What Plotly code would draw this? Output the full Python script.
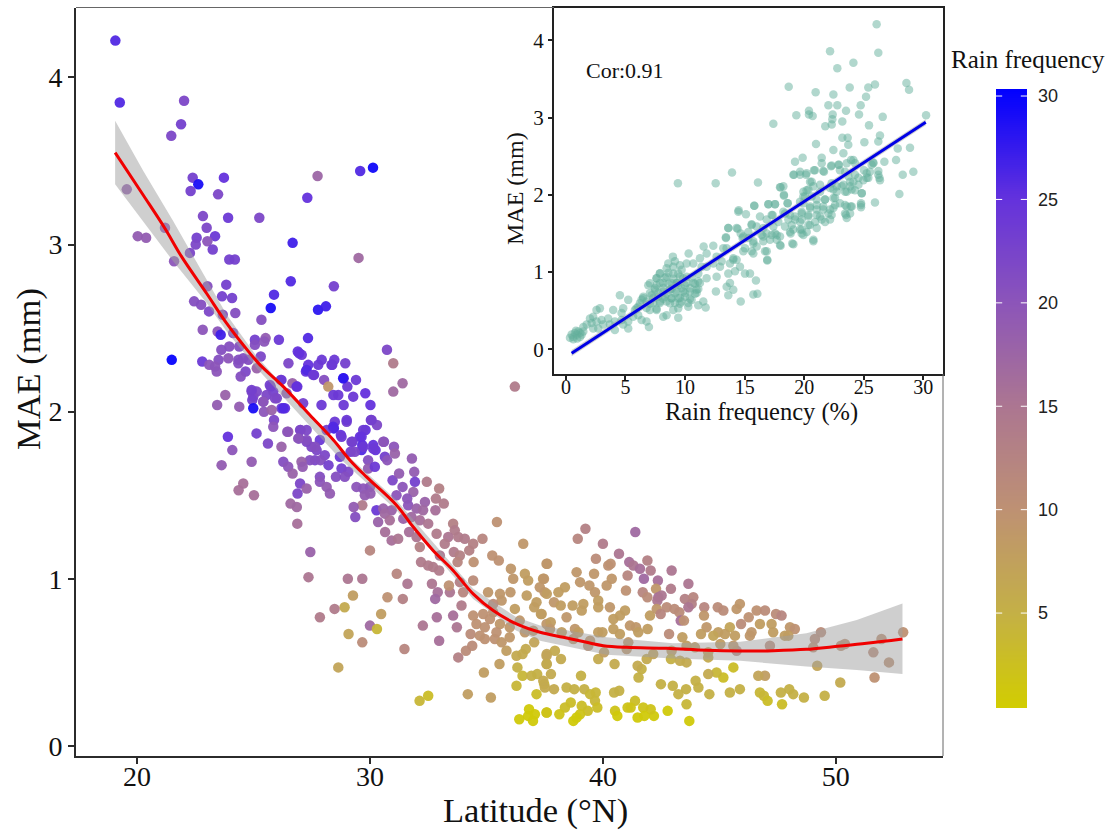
import plotly.graph_objects as go

# (latitude, MAE, rain frequency)
south_pts = [
(19.07,4.22,26),(19.26,3.85,26),(22.02,3.86,22),(21.89,3.72,23),(21.47,3.65,22),(22.39,3.40,23),(22.63,3.36,29),
(23.73,3.40,25),(22.30,3.32,23),(23.48,3.30,22),(27.75,3.41,17.5),(29.58,3.44,26),(30.13,3.46,29.5),(27.31,3.28,25),
(19.56,3.33,19),(22.83,3.17,22),(23.91,3.16,24),(25.25,3.16,22),(22.99,3.10,22),(21.2,3.10,20),(20.03,3.05,19),
(20.39,3.04,19),(22.56,3.04,23),(23.35,3.05,24),(22.52,3.00,22),(23.02,3.02,20),(23.25,2.97,23),(26.68,3.01,27),
(22.27,2.95,22),(21.59,2.90,20),(23.96,2.91,23),(24.2,2.91,23),(29.51,2.92,17),(23.02,2.75,21),(23.83,2.76,23),
(26.6,2.78,26),(28.45,2.75,23),(25.88,2.70,26),(23.65,2.69,23),(24.08,2.68,23),(22.45,2.66,21),(22.75,2.64,21),
(23.09,2.60,22),(24.22,2.59,21),(23.68,2.58,21),(25.74,2.62,29),(27.77,2.61,28),(28.11,2.63,27),(25.34,2.55,21),
(22.82,2.49,20),(23.46,2.48,20),(23.59,2.46,27),(24.13,2.47,22),(25.06,2.43,23),(25.52,2.44,19),(26.09,2.43,24),
(27.34,2.44,26),(25.06,2.40,21),(25.46,2.42,20),(23.96,2.39,21),(23.62,2.37,21),(24.39,2.39,21),(26.9,2.36,25),
(27.07,2.34,24),(30.73,2.37,22),(21.49,2.31,30),(22.8,2.30,24),(23.5,2.31,21),(23.92,2.32,20),(24.35,2.31,21),
(24.56,2.32,21),(24.78,2.31,21),(25.31,2.33,22),(23.1,2.28,20),(23.35,2.27,20),(24.35,2.29,21),(26.5,2.29,22),
(27.93,2.31,24),(28.47,2.31,24),(28.94,2.29,23),(31.0,2.29,14),(27.35,2.28,25),(27.78,2.28,24),(28.38,2.28,24),
(25.14,2.26,18),(23.42,2.24,20),(24.66,2.24,22),(27.25,2.24,25),(27.6,2.22,24),(24.45,2.21,21),(26.17,2.19,23),
(26.67,2.17,18),(28.03,2.19,21),(28.87,2.20,25),(29.4,2.19,24),(31.4,2.17,17),(25.74,2.15,23),(26.88,2.15,24),
(29.03,2.15,24),(28.21,2.15,9),(23.79,2.10,18),(24.92,2.12,22),(25.14,2.12,22),(25.85,2.12,23),(31.0,2.12,17),
(29.8,2.11,25),(28.43,2.10,24),(28.64,2.10,24),(29.28,2.09,24),(24.99,2.09,22),(25.56,2.10,22),(26.42,2.11,20),
(36.22,2.15,14),
(26.96,2.35,25),(27.28,2.25,26),(27.56,2.22,24),(28.35,2.28,24),(28.85,2.20,28),(25.7,2.16,23),(26.2,2.19,24),
(26.85,2.15,25),(26.0,2.08,22),(25.42,2.06,21),(24.92,2.13,23),(26.2,2.02,24),(26.35,2.02,25),
]

central_pts = [
(23.44,2.04,19),(24.39,2.03,19),(24.95,2.07,23),(24.99,2.02,29),(25.42,2.06,20),(25.45,2.00,20),(25.78,2.01,18),
(25.88,1.95,22),(25.85,1.91,20),(26.28,2.02,26),(25.92,2.08,22),(27.13,2.05,23),(27.92,2.04,24),(28.87,2.04,24),
(30.02,2.04,25),(29.0,1.94,23),(28.49,1.94,24),(28.45,1.90,27),(28.75,1.86,25),(28.14,1.89,23),(30.04,1.95,24),
(30.3,1.92,22),(29.81,1.89,25),(29.57,1.85,25),(29.25,1.82,24),(29.67,1.80,26),(30.14,1.80,25),(30.24,1.77,25),
(30.6,1.82,21),(31.03,1.79,20),(31.07,1.75,18),(30.64,1.73,23),(30.74,1.71,20),(31.8,1.72,19),(23.9,1.85,25),
(25.13,1.87,23),(24.09,1.77,20),(23.63,1.68,19),(24.92,1.70,19),(25.62,1.81,22),(26.2,1.79,18),(26.49,1.88,18),
(26.95,1.84,23),(27.28,1.89,22),(27.02,1.89,21),(27.28,1.82,22),(27.49,1.79,22),(27.85,1.83,24),(27.71,1.77,22),
(28.06,1.74,22),(27.64,1.71,22),(27.42,1.71,21),(27.06,1.70,18),(27.88,1.71,21),(26.28,1.70,21),(26.49,1.67,20),
(26.68,1.63,18),(27.11,1.67,19),(28.22,1.68,23),(28.71,1.73,24),(29.17,1.76,23),(29.64,1.77,26),(29.92,1.71,21),
(29.92,1.66,19),(30.21,1.67,24),(28.78,1.66,23),(29.07,1.64,22),(28.54,1.61,21),(28.92,1.61,21),(27.85,1.61,21),
(27.0,1.57,22),(27.85,1.58,20),(27.28,1.54,18),(26.89,1.51,22),(28.14,1.55,19),(28.28,1.51,19),(24.56,1.57,16),
(24.36,1.53,16),(25.02,1.50,16),(26.59,1.45,17),(26.86,1.43,17),(26.88,1.33,16),(27.44,1.16,18),(27.36,1.01,15),
(29.05,1.0,15),(29.67,1.0,15),(29.27,0.90,8),(28.91,0.83,6),(28.48,0.82,14),(27.85,0.77,14),(30.48,0.79,8),
(30.75,0.89,10),(31.41,0.88,13),(30.0,0.72,17),(30.3,0.70,4),(29.08,0.67,7),(29.67,0.62,11),(31.48,0.58,12),
(28.64,0.47,7),(30.0,1.17,12),(31.15,1.03,12),(31.61,0.97,15),(29.42,1.55,20),(29.71,1.54,20),(30.0,1.55,20),
(29.78,1.50,19),(30.02,1.51,19),(29.67,1.44,14),(29.3,1.43,19),(29.37,1.37,21),(30.28,1.41,24),(30.57,1.42,18),
(30.93,1.41,18),(30.64,1.39,17),(30.35,1.34,18),(30.85,1.35,16),(30.65,1.28,16),(30.93,1.23,16),(31.21,1.24,15),
(30.97,1.59,22),(31.25,1.63,19),(31.4,1.55,20),(31.14,1.50,20),(31.9,1.64,19),(31.93,1.58,23),(32.44,1.58,14),
(32.97,1.54,13),(31.86,1.52,18),(31.6,1.48,20),(31.64,1.44,20),(32.0,1.42,18),(32.36,1.46,18),(32.83,1.48,14),
(33.17,1.45,14),(32.81,1.41,16),(32.28,1.41,17),(31.43,1.36,18),(31.78,1.37,17),(32.14,1.35,16),(32.5,1.33,15),
(31.68,1.28,16),(32.0,1.25,15),(32.14,1.19,13),(32.86,1.27,14),(33.57,1.33,13),(33.64,1.29,14),(33.36,1.25,15),
(33.79,1.25,14),(34.07,1.24,14),(33.21,1.21,14),(34.43,1.21,13),(34.83,1.24,12),(35.45,1.34,10),(36.58,1.21,9),
(34.26,1.17,13),(33.6,1.16,14),(33.86,1.14,13),(33.0,1.14,15),(32.19,1.10,14),(32.5,1.08,14),(32.71,1.07,14),
(32.97,1.05,14),(33.76,1.10,12),(34.45,1.10,10),(35.25,1.14,10),(35.53,1.11,10),(36.05,1.06,9),(36.15,1.0,9),
(36.65,1.03,8),(36.79,0.99,8),(37.58,1.09,9),(37.43,1.0,8),(37.29,0.95,9),(37.5,0.92,9),(32.66,0.97,15),
(32.91,0.92,16),(32.8,0.88,17),(33.43,0.92,15),(33.39,0.96,10),(33.86,0.98,13),(34.0,0.92,12),(34.43,0.99,11),
(35.07,0.92,9),(35.58,0.91,9),(36.03,0.92,9),(35.65,0.87,9),(35.29,0.85,11),(36.73,0.90,8),(37.15,0.86,8),
(37.05,0.83,8),(36.22,0.82,8),(37.34,0.79,8),(33.93,0.84,14),(35.29,0.80,10),(33.57,0.78,16),(32.87,0.77,16),
(32.27,0.72,15),(33.73,0.71,15),(32.97,0.63,16),(33.79,0.53,13),(34.12,0.57,11),(34.39,0.60,11),(34.89,0.44,8),
(35.56,0.49,8),(35.86,0.57,8),(36.29,0.54,6),(36.55,0.55,6),(36.69,0.58,6),(37.05,0.62,7),(36.33,0.47,5),
(36.55,0.42,4),(36.93,0.42,5),(37.18,0.43,5),(36.29,0.36,4),(37.15,0.31,3),(37.48,0.37,4),(37.58,0.54,7),
(37.58,0.49,7),(34.2,0.31,8),(35.19,0.29,8),(32.5,0.30,3),(32.13,0.27,4),(36.41,0.16,1),(36.83,0.22,1),
(37.08,0.19,1),(36.79,0.18,1),(37.0,0.15,1),(37.58,0.20,1.5),(34.43,0.78,10),(34.86,0.79,10),(35.15,0.76,10),
(34.57,0.73,10),(34.93,0.71,10),(34.32,0.67,11),(34.72,0.66,10),(34.93,0.64,10),(35.36,0.64,10),(35.65,0.62,9),
(36.0,0.65,9),(35.58,0.73,9),(36.0,0.71,9),(36.43,0.75,9),(36.65,0.68,9),(37.01,0.69,9),(35.43,0.68,10),(37.58,0.73,9),
(26.45,1.88,20),(27.0,1.89,22),(28.42,1.91,26),(29.0,1.95,24),(28.78,1.85,24),(27.28,1.83,21),(26.92,1.84,20),
(27.64,1.79,21),(29.21,1.82,23),(29.71,1.89,24),(29.64,1.85,25),(30.07,1.95,23),(29.35,1.76,22),(30.14,1.78,24),
(30.57,1.82,20),(29.71,1.79,24),
]

north_pts = [
(39.25,1.30,13),(38.92,1.24,12),(40.0,1.21,14),(41.39,1.28,17),(40.69,1.15,15),(39.7,1.12,11),(40.23,1.08,10),
(40.33,1.09,10),(37.61,1.09,9),(38.87,1.04,9),(39.62,1.03,9),(41.06,1.02,12),(41.13,1.10,16),(41.31,1.08,15),
(41.91,1.11,13),(41.59,1.06,16),(42.05,1.05,14),(41.76,1.0,17),(42.36,0.99,16),(42.95,1.05,15),(43.67,0.97,15),
(42.92,0.94,14),(37.47,1.0,9),(40.38,1.0,9),(40.16,0.96,9),(39.02,0.98,9),(39.42,0.96,9),(38.37,0.95,8),(39.66,0.92,9),
(40.99,0.93,10),(41.71,0.92,12),(41.91,0.89,11),(42.28,0.94,9),(42.38,0.89,16),(42.52,0.90,15),(42.34,0.87,15),
(38.09,0.92,8),(37.59,0.91,8),(39.8,0.87,8),(37.9,0.86,9),(38.19,0.84,8),(38.7,0.84,8),(39.16,0.85,8),(39.09,0.81,8),
(39.8,0.83,8),(40.3,0.83,9),(40.95,0.81,8),(40.73,0.78,8),(40.45,0.76,8),(37.37,0.79,8),(38.44,0.77,9),(37.76,0.74,8),
(42.02,0.78,8),(42.31,0.82,9),(42.74,0.83,11),(43.07,0.82,11),(42.48,0.79,12),(43.28,0.80,11),(43.52,0.88,13),
(43.88,0.89,12),(43.81,0.85,13),(43.67,0.83,15),(43.34,0.75,16),(43.48,0.75,10),(44.35,0.83,12),(44.93,0.83,11),
(45.17,0.81,11),(45.88,0.85,9),(45.74,0.82,9),(44.34,0.78,9),(45.93,0.73,11),(46.26,0.77,10),(46.6,0.81,10),
(46.96,0.81,11),(47.43,0.79,11),(47.67,0.78,12),(47.24,0.73,8),(46.74,0.73,8),(47.31,0.68,8),(46.38,0.68,9),
(46.31,0.66,9),(44.45,0.71,9),(45.45,0.71,7),(44.95,0.68,8),(44.74,0.66,7),(45.24,0.67,8),(45.67,0.66,8),(44.21,0.67,8),
(48.03,0.71,9),(48.24,0.70,10),(47.81,0.66,8),(47.96,0.66,8),(49.36,0.68,11),(49.1,0.64,11),(49.03,0.59,10),
(50.39,0.61,10),(50.22,0.60,10),(51.96,0.64,10),(52.89,0.68,10),(51.61,0.56,11),(52.28,0.50,10),(51.66,0.41,10),
(49.2,0.48,7),(50.19,0.38,6),(49.52,0.30,5),(48.63,0.29,5),(48.17,0.31,5),(48.0,0.34,5),(47.64,0.32,5),(47.69,0.25,3),
(47.17,0.60,11),(45.74,0.57,12),(45.6,0.60,9),(45.04,0.61,8),(44.52,0.53,6),(44.52,0.56,7),(43.95,0.59,8),(43.59,0.60,8),
(42.95,0.57,8),(42.92,0.52,5),(43.31,0.51,6),(43.59,0.50,6),(45.6,0.47,3),(45.17,0.41,3),(44.88,0.44,4),(44.52,0.43,6),
(46.96,0.42,8),(46.67,0.42,7),(45.88,0.34,5),(45.45,0.32,5),(44.57,0.31,5),(46.74,0.32,4),(46.91,0.30,4),(47.07,0.27,3),
(44.1,0.35,5),(43.98,0.39,5),(43.57,0.34,5),(43.24,0.31,5),(43.0,0.36,5),(42.49,0.37,5),(43.59,0.25,4),(43.71,0.15,1),
(42.78,0.21,1),(42.19,0.18,1),(42.05,0.22,2),(41.73,0.23,2),(41.78,0.18,1),(41.49,0.17,1),(41.38,0.27,3),(41.19,0.23,2),
(41.06,0.23,2),(40.7,0.33,5),(40.48,0.32,5),(40.52,0.21,2),(40.62,0.18,1),(41.53,0.41,5),(41.66,0.46,5),(41.49,0.48,6),
(41.88,0.52,6),(42.16,0.55,7),(40.5,0.49,6),(39.8,0.52,6),(40.05,0.56,8),(39.37,0.60,10),(39.45,0.63,9),(41.02,0.58,9),
(41.09,0.62,9),(39.8,0.68,8),(39.98,0.68,8),(40.73,0.67,8),(40.45,0.70,8),(41.16,0.72,9),(41.42,0.71,9),(41.52,0.68,8),
(41.92,0.70,8),(42.84,0.67,11),(43.41,0.65,8),(38.8,0.70,9),(38.95,0.68,8),(38.73,0.64,9),(38.23,0.68,8),(37.73,0.70,9),
(37.59,0.55,7),(37.94,0.57,6),(38.2,0.52,6),(37.59,0.49,6),(37.77,0.43,6),(39.06,0.42,5),(38.44,0.35,5),(38.77,0.34,5),
(39.2,0.34,5),(39.69,0.32,4),(39.45,0.31,4),(39.66,0.27,4),(39.76,0.23,3),(39.35,0.21,3),(39.09,0.24,3),(38.62,0.26,3),
(38.37,0.23,3),(38.13,0.19,2),(37.59,0.20,2),(39.02,0.19,2),(38.73,0.15,1),(38.87,0.17,1),(37.9,0.34,6),(37.51,0.35,6),
(37.44,0.39,6),
]

# (rain frequency, MAE)
inset_high_pts = [
(26.08,4.21),(22.17,3.86),(26.22,3.84),(24.13,3.71),(22.78,3.64),(28.58,3.45),(25.94,3.43),(25.38,3.39),(23.82,3.39),
(28.8,3.36),(18.7,3.40),(20.96,3.33),(22.45,3.30),(25.19,3.27),(22.03,3.16),(22.78,3.16),(24.74,3.16),(20.4,3.09),
(23.51,3.09),(19.34,3.03),(20.4,3.04),(20.71,3.02),(22.39,3.04),(24.6,3.04),(26.59,3.01),(30.23,3.03),(22.36,2.98),
(23.2,2.95),(17.41,2.92),(21.77,2.89),(22.31,2.91),(25.44,2.90),(26.36,2.77),(23.2,2.74),(23.65,2.74),(23.7,2.65),
(25.05,2.68),(26.22,2.69),(20.99,2.66),(22.45,2.58),(28.88,2.61),(27.85,2.60),(23.29,2.54),(21.47,2.48),(19.87,2.48),
(19.23,2.43),(24.13,2.45),(25.8,2.42),(26.73,2.43),(27.71,2.45),(21.47,2.41),(22.92,2.39),(22.25,2.37),(29.16,2.30),
(28.27,2.26),(26.22,2.31),(26.22,2.26),(26.36,2.19),(27.99,2.01),(25.94,1.90),(24.77,1.89),(24.77,1.84),(13.94,2.29),
(9.4,2.15),(12.57,2.15),(16.12,2.16),(20.82,2.32),(21.6,2.31),(23.0,2.32),(19.65,2.26),(19.09,2.26),(20.2,2.28),
(20.49,2.17),(20.77,2.11),(18.25,2.11),(17.97,2.10),(18.3,1.99),(17.0,1.88),(17.55,1.88),(18.61,1.89),(15.81,1.86),
(14.5,1.80),(15.11,1.75),(16.29,1.72),(13.63,1.57),(14.41,1.56),(13.43,1.45),(14.67,1.50),(12.37,1.34),(11.56,1.33),
(10.3,1.24),(8.98,1.20),
]
inset_band_pts = [
(25.24,2.28),(24.26,2.26),(23.71,2.24),(24.97,2.19),(24.13,2.17),(24.55,2.13),(23.85,2.11),(23.29,2.13),(22.73,2.11),
(22.17,2.09),(22.73,2.04),(23.57,2.04),(24.26,2.06),(24.83,2.02),(25.52,2.30),(25.24,2.22),(25.66,2.39),(23.57,2.41),
(21.75,1.94),(22.45,1.96),(23.0,1.89),(23.57,1.85),(23.99,1.85),(23.43,1.76),(23.85,1.76),(23.57,1.70),(22.45,1.83),
(22.03,1.76),(21.6,1.85),(21.33,1.72),(21.75,1.65),(22.17,1.68),(21.05,1.81),(20.49,1.85),(19.93,1.89),(19.79,1.76),
(20.35,1.72),(20.91,1.65),(20.35,1.61),(19.65,1.65),(19.23,1.72),(18.81,1.74),(18.39,1.76),(18.95,1.61),(19.65,1.55),
(20.21,1.52),(20.77,1.42),(21.05,1.57),(18.81,1.52),(18.39,1.59),(19.09,1.36),(19.79,1.50),(20.63,1.98),(20.07,1.98),
(20.2,2.06),(19.65,1.91),(21.05,1.94),(21.33,2.04),(17.97,1.46),(17.55,1.50),(17.69,1.42),(18.02,1.34),(17.27,1.48),
(16.85,1.50),(16.43,1.48),(16.57,1.40),(17.13,1.42),(16.85,1.27),(16.9,1.15),(16.01,1.33),(15.73,1.40),(15.31,1.44),
(14.89,1.46),(15.59,1.27),(14.89,1.27),(16.01,1.59),(15.59,1.62),(16.85,1.68),(17.35,1.74),(17.83,1.65),(17.41,1.59),
(16.57,1.57),(15.31,1.52),
(18.02,2.10),(18.3,2.00),(19.14,2.26),(19.65,2.30),(20.15,2.26),(20.9,2.32),(21.66,2.30),(22.3,2.38),(22.87,2.39),
(23.43,2.30),(23.93,2.45),(24.27,2.41),(25.02,2.32),(25.8,2.41),(26.31,2.22),(25.38,2.22),(24.55,2.22),(23.85,2.17),
(23.15,2.11),(22.45,2.07),(22.3,2.15),(21.33,2.13),(20.63,2.17),(19.93,2.04),(20.35,2.07),(19.93,1.98),(24.83,2.02),
(23.98,2.07),(23.43,2.04),(22.59,1.96),(21.75,1.94),(21.05,1.87),(20.49,1.83),(19.79,1.78),(19.23,1.68),(18.67,1.68),
(19.79,1.68),(20.35,1.74),(21.05,1.74),(21.6,1.81),(22.17,1.81),(22.59,1.87),(23.43,1.87),(23.9,1.85),(24.77,1.87),
(23.51,1.74),(22.3,1.74),(21.47,1.68),(20.49,1.61),(19.79,1.55),(19.09,1.55),(18.86,1.50),(19.0,1.37),(20.77,1.40),
(19.93,1.48),(18.25,1.78),(17.27,1.74),(15.59,1.61),(16.57,1.46),(17.69,1.48),(17.97,1.35),(15.73,1.37),(15.03,1.31),
(14.83,1.44),(14.33,1.57),(13.63,1.57),(13.43,1.44),(13.21,1.31),(14.05,1.16),(16.71,1.27),(16.9,1.16),(15.73,1.24),
(14.47,1.78),(15.81,1.86),(16.99,1.88),(17.55,1.88),(18.61,1.89),
]
inset_low_pts = [
(14.05,1.18),(13.49,1.31),(12.65,1.20),(13.07,1.14),(13.77,1.11),(14.33,1.16),(14.61,1.07),(15.03,0.98),(15.45,0.98),
(15.95,0.89),(14.19,1.01),(13.63,0.98),(12.93,1.07),(12.37,1.11),(11.81,1.24),(11.25,1.18),(11.81,1.07),(11.39,1.07),
(12.65,0.94),(13.77,0.86),(13.49,0.81),(14.05,0.77),(13.63,0.70),(15.73,0.71),(16.07,0.72),(14.67,0.62),(12.59,0.75),
(11.25,0.86),(10.97,0.77),(11.81,0.92),(11.11,0.98),(10.69,1.11),(10.13,1.11),(9.57,1.09),(9.01,1.07),(8.45,1.05),
(7.89,0.98),(9.01,0.98),(9.71,1.03),(10.13,0.94),(9.57,0.94),(8.45,0.94),(7.61,0.92),(6.91,0.83),(7.61,0.83),(8.17,0.86),
(8.87,0.86),(9.43,0.83),(9.99,0.83),(10.69,0.86),(11.11,0.88),(7.47,0.77),(8.17,0.75),(8.73,0.77),(9.29,0.75),(9.85,0.75),
(10.41,0.75),(10.97,0.73),(7.19,0.70),(7.75,0.68),(8.31,0.68),(8.87,0.66),(9.43,0.66),(9.99,0.68),(8.45,0.62),(9.15,0.60),
(9.71,0.62),(10.55,0.64),(11.11,0.57),(11.53,0.62),(11.73,0.54),(7.89,0.62),(7.33,0.60),(6.77,0.62),(6.49,0.68),(6.35,0.64),
(6.07,0.55),(4.53,0.70),(9.01,0.51),(10.27,0.55),(8.45,0.44),(8.17,0.42),(9.43,0.41),(6.97,0.29),(6.77,0.36),(6.35,0.38),
(5.79,0.51),(7.61,0.51),(7.05,0.51),(9.29,0.86),(8.59,1.11),(9.15,1.14),(5.23,0.64),(4.81,0.53),(4.67,0.47),(3.97,0.51),
(2.85,0.53),(2.57,0.51),(2.29,0.42),(2.02,0.40),(2.99,0.38),(3.55,0.40),(4.11,0.36),(4.67,0.38),(5.23,0.36),(5.65,0.42),
(6.07,0.44),(5.23,0.27),(4.81,0.32),(4.11,0.25),(3.69,0.32),(3.13,0.32),(2.71,0.27),(2.29,0.27),(1.74,0.32),(1.46,0.29),
(2.16,0.34),(2.57,0.36),(0.34,0.15),(0.62,0.16),(0.9,0.19),(1.18,0.21),(0.76,0.21),(1.04,0.23),(0.48,0.19),(0.95,0.14),
(1.32,0.19),(1.18,0.16),(0.84,0.24),(1.46,0.23),(0.62,0.13),
(7.89,0.985),(8.59,0.99),(9.43,0.98),(7.61,0.92),(8.31,0.925),(9.01,0.915),(9.85,0.92),(10.55,0.93),(7.05,0.855),(7.89,0.86),
(8.59,0.85),(9.29,0.855),(10.13,0.86),(10.83,0.85),(7.47,0.79),(8.17,0.795),(8.87,0.785),(9.71,0.79),(10.41,0.79),(11.11,0.78),
(7.05,0.726),(7.75,0.73),(8.45,0.72),(9.15,0.725),(9.99,0.73),(10.83,0.72),(6.49,0.66),(7.33,0.665),(8.17,0.655),(8.87,0.66),
(9.57,0.665),(10.41,0.655),(6.21,0.596),(7.05,0.59),(7.89,0.60),(8.73,0.595),(9.57,0.59),(10.27,0.60),(5.93,0.53),(6.77,0.535),
(7.61,0.525),(9.43,0.53),
]

curve_lat = [19.06,20.27,21.2,21.92,22.99,23.85,24.85,25.28,26.28,27.42,28.43,29.14,29.85,31.14,31.86,32.71,33.57,34.43,35.29,36.29,37.3,38.3,39.3,40.02,41.02,42.74,44.45,45.88,47.31,48.74,49.89,51.32,52.86]
curve_mae = [3.55,3.295,3.096,2.926,2.707,2.528,2.349,2.28,2.15,1.98,1.83,1.71,1.61,1.44,1.31,1.17,1.05,0.91,0.81,0.73,0.68,0.65,0.62,0.60,0.59,0.584,0.572,0.568,0.57,0.578,0.594,0.614,0.64]
band_lat = [19.06,20.27,21.55,22.99,23.85,25.14,28.71,31.14,34.43,36.29,37.3,40.16,43.0,45.9,48.74,50.9,52.86]
band_upper = [3.74,3.44,3.14,2.79,2.58,2.33,1.78,1.47,0.94,0.77,0.72,0.65,0.614,0.624,0.674,0.754,0.853]
band_lower = [3.36,3.14,2.90,2.65,2.48,2.26,1.72,1.41,0.88,0.69,0.63,0.545,0.524,0.51,0.475,0.455,0.43]

fit_freq = [0.48,30.2]
fit_mae = [-0.05,2.94]
fit_upper = [-0.01,2.98]
fit_lower = [-0.09,2.90]

lat_ticks = [20,30,40,50]
mae_ticks = [0,1,2,3,4]
freq_ticks = [0,5,10,15,20,25,30]
cbar_ticks = [5,10,15,20,25,30]
title_lat = "Latitude (°N)"
title_mae = "MAE (mm)"
title_freq = "Rain frequency (%)"
title_cbar = "Rain frequency"
note_cor = "Cor:0.91"

W, H = 1111, 832
SERIF = "Liberation Serif"
main_pts = south_pts + central_pts + north_pts
lat = [p[0] for p in main_pts]
mae = [p[1] for p in main_pts]
freq = [p[2] for p in main_pts]
inset_pts = inset_high_pts + inset_band_pts + inset_low_pts
ifreq = [p[0] for p in inset_pts]
imae = [p[1] for p in inset_pts]

cmin, cmax = 0.41, 30.34
stops = [(0.41,"rgb(210,205,0)"),(5,"rgb(196,176,70)"),(10,"rgb(190,145,115)"),(15,"rgb(172,118,145)"),
         (20,"rgb(140,85,185)"),(25,"rgb(100,50,220)"),(30.34,"rgb(0,0,255)")]
cscale = [[(v-cmin)/(cmax-cmin),c] for v,c in stops]
cbar_levels = [cmin+(cmax-cmin)*i/299 for i in range(300)]

def hdom(a,b): return [a/W,b/W]
def vdom(top,bot): return [1-bot/H,1-top/H]

fig = go.Figure()
fig.add_trace(go.Scatter(x=lat,y=mae,mode="markers",xaxis="x",yaxis="y",showlegend=False,
    marker=dict(size=10.5,color=freq,cmin=cmin,cmax=cmax,colorscale=cscale,opacity=0.95,line=dict(width=0),showscale=False)))
fig.add_trace(go.Scatter(x=band_lat+band_lat[::-1],y=band_upper+band_lower[::-1],mode="lines",fill="toself",
    fillcolor="rgba(160,160,160,0.5)",line=dict(width=0),xaxis="x",yaxis="y",showlegend=False,hoverinfo="skip"))
fig.add_trace(go.Scatter(x=curve_lat,y=curve_mae,mode="lines",line=dict(color="#F00000",width=3,shape="spline"),
    xaxis="x",yaxis="y",showlegend=False))
fig.add_trace(go.Scatter(x=ifreq,y=imae,mode="markers",xaxis="x2",yaxis="y2",showlegend=False,
    marker=dict(size=8.5,color="rgba(100,175,155,0.5)",line=dict(width=0))))
fig.add_trace(go.Scatter(x=fit_freq+fit_freq[::-1],y=fit_upper+fit_lower[::-1],mode="lines",fill="toself",
    fillcolor="rgba(160,160,160,0.5)",line=dict(width=0),xaxis="x2",yaxis="y2",showlegend=False,hoverinfo="skip"))
fig.add_trace(go.Scatter(x=fit_freq,y=fit_mae,mode="lines",line=dict(color="#0000E6",width=3),
    xaxis="x2",yaxis="y2",showlegend=False))
fig.add_trace(go.Heatmap(z=[[v] for v in cbar_levels],y=cbar_levels,x=[0],xaxis="x3",yaxis="y3",colorscale=cscale,
    zmin=cmin,zmax=cmax,showscale=False,hoverinfo="skip"))

AX = "#2b2b2b"
def title_note(text,x,y,size,rot=0):
    return dict(text=text,x=x/W,y=1-y/H,xref="paper",yref="paper",xanchor="center",yanchor="middle",showarrow=False,
                textangle=rot,font=dict(size=size,family=SERIF,color="#111"))

cbar_marks = []
for t in cbar_ticks:
    for a,b in ((0,0.2),(0.8,1)):
        cbar_marks.append(dict(type="line",xref="x3 domain",yref="y3",x0=a,x1=b,y0=t,y1=t,layer="above",
                               line=dict(color="white",width=1)))

fig.update_layout(
    width=W,height=H,margin=dict(l=0,r=0,t=0,b=0),paper_bgcolor="white",plot_bgcolor="white",
    font=dict(family=SERIF,color="#111"),showlegend=False,
    xaxis=dict(domain=hdom(76,943),range=[17.38,54.6],tickvals=lat_ticks,showgrid=False,zeroline=False,automargin=False,
        showline=True,linecolor=AX,linewidth=2,ticks="outside",ticklen=6,tickcolor=AX,tickwidth=2,ticklabelstandoff=-12,
        tickfont=dict(size=28,family=SERIF,color="#111"),anchor="y"),
    yaxis=dict(domain=vdom(8,756),range=[-0.06,4.415],tickvals=mae_ticks,showgrid=False,zeroline=False,automargin=False,
        showline=True,linecolor=AX,linewidth=2,ticks="outside",ticklen=6,tickcolor=AX,tickwidth=2,
        tickfont=dict(size=28,family=SERIF,color="#111"),anchor="x"),
    xaxis2=dict(domain=hdom(554,943),range=[-1.0,31.65],tickvals=freq_ticks,showgrid=False,zeroline=False,automargin=False,
        showline=True,mirror=True,linecolor="#222",linewidth=2,ticks="outside",ticklen=4,tickcolor="#222",tickwidth=1.5,ticklabelstandoff=-10,
        tickfont=dict(size=20,family=SERIF,color="#111"),anchor="y2"),
    yaxis2=dict(domain=vdom(8,374),range=[-0.32,4.42],tickvals=mae_ticks,showgrid=False,zeroline=False,automargin=False,
        showline=True,mirror=True,linecolor="#222",linewidth=2,ticks="outside",ticklen=4,tickcolor="#222",tickwidth=1.5,
        tickfont=dict(size=21,family=SERIF,color="#111"),anchor="x2"),
    xaxis3=dict(domain=hdom(996,1027),range=[-0.5,0.5],visible=False,anchor="y3",automargin=False),
    yaxis3=dict(domain=vdom(89,708),range=[cmin,cmax],tickvals=cbar_ticks,side="right",anchor="x3",showgrid=False,zeroline=False,automargin=False,
        showline=False,ticks="",ticklabelstandoff=10,tickfont=dict(size=18,family="Liberation Sans",color="#222")),
    shapes=[
        dict(type="line",xref="paper",yref="paper",x0=76/W,x1=554/W,y0=1-7.5/H,y1=1-7.5/H,line=dict(color="#666",width=1)),
        dict(type="line",xref="paper",yref="paper",x0=943/W,x1=943/W,y0=1-374/H,y1=1-756/H,line=dict(color="#666",width=1)),
    ]+cbar_marks,
    annotations=[
        dict(text=note_cor,x=4.95,y=3.61,xref="x2",yref="y2",xanchor="center",yanchor="middle",showarrow=False,
             font=dict(size=22,family=SERIF,color="#111")),
        title_note(title_cbar,1028,60,25),
        title_note(title_lat,535,810,34.5),
        title_note(title_mae,28,369,34.5,-90),
        title_note(title_freq,761,412,24.5),
        title_note(title_mae,515,189,24,-90),
    ],
)
page_fix = "document.body.style.margin='0';document.documentElement.style.overflow='hidden';"
fig.write_html("out.html",config=dict(displayModeBar=False),post_script=page_fix)
